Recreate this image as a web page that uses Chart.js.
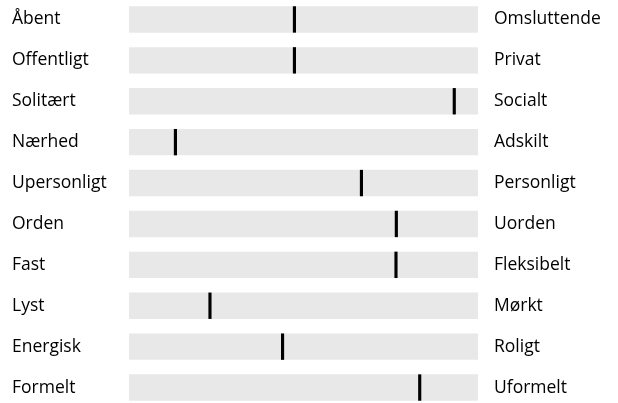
<!DOCTYPE html>
<html>
<head>
<meta charset="utf-8">
<script src="https://cdn.jsdelivr.net/npm/chart.js@4"></script>
<style>
  html, body { margin: 0; padding: 0; background: #fff; overflow: hidden; }
  #wrap { position: absolute; left: 0; top: -1px; width: 618px; height: 409px; }
</style>
</head>
<body>
<div id="wrap"><canvas id="myChart"></canvas></div>
<script>
const leftLabels = ["Åbent", "Offentligt", "Solitært", "Nærhed", "Upersonligt", "Orden", "Fast", "Lyst", "Energisk", "Formelt"];
const rightLabels = ["Omsluttende", "Privat", "Socialt", "Adskilt", "Personligt", "Uorden", "Fleksibelt", "Mørkt", "Roligt", "Uformelt"];
const scores = [47.4, 47.4, 93.2, 13.3, 66.6, 76.6, 76.5, 23.2, 44.0, 83.3];
const scaleMax = 100;

const markerHalf = 0.45;

// category axes add half a label height above/below the chart area; drop it
function noPad(scale, width) {
  scale.width = width;
  scale.paddingTop = 0;
  scale.paddingBottom = 0;
}

const ctx = document.getElementById('myChart');
const config = {
  type: 'bar',
  data: {
    labels: leftLabels,
    datasets: [
      {
        label: 'marker',
        data: scores.map(v => [v - markerHalf, v + markerHalf]),
        backgroundColor: '#000000',
        categoryPercentage: 1,
        barPercentage: 0.645,
        order: 0
      },
      {
        label: 'track',
        data: leftLabels.map(() => scaleMax),
        backgroundColor: '#e8e8e8',
        categoryPercentage: 1,
        barPercentage: 0.645,
        order: 1
      }
    ]
  },
  options: {
    indexAxis: 'y',
    responsive: true,
    maintainAspectRatio: false,
    animation: false,
    layout: { padding: { left: 12, right: 0, top: 0, bottom: 0 } },
    plugins: {
      legend: { display: false },
      tooltip: { enabled: false }
    },
    datasets: { bar: { grouped: false } },
    scales: {
      x: {
        type: 'linear',
        min: 0,
        max: scaleMax,
        display: false
      },
      y: {
        type: 'category',
        position: 'left',
        grid: { display: false, drawTicks: false },
        border: { display: false },
        ticks: {
          crossAlign: 'far',
          color: '#000',
          padding: 0,
          font: { family: 'Open Sans', size: 17.5 }
        },
        afterFit(scale) { noPad(scale, 117); }
      },
      y2: {
        type: 'category',
        position: 'right',
        labels: rightLabels,
        grid: { display: false, drawTicks: true, tickLength: 16 },
        border: { display: false },
        ticks: {
          crossAlign: 'near',
          color: '#000',
          padding: 0,
          font: { family: 'Open Sans', size: 17.5 }
        },
        afterFit(scale) { noPad(scale, 140); }
      }
    }
  }
};

new Chart(ctx, config);
</script>
</body>
</html>
